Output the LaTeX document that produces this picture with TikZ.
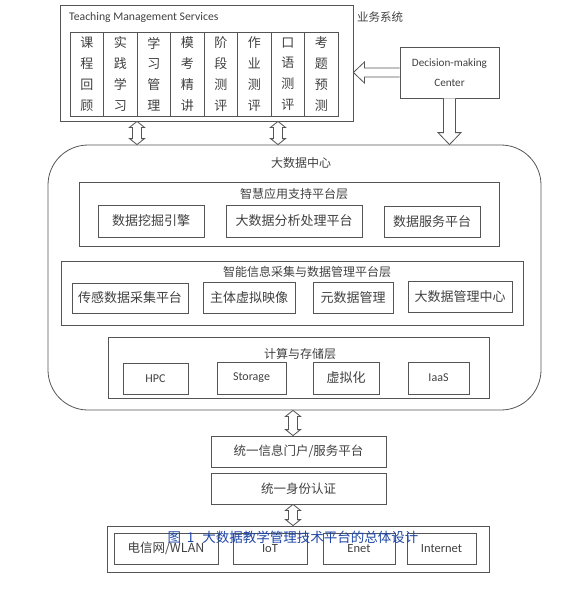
\documentclass[tikz,border=0pt]{standalone}
\usepackage{fontspec}
\setmainfont{Carlito}
\newfontfamily\cjk{Noto Sans CJK SC}
\usetikzlibrary{calc}
\definecolor{ln}{RGB}{85,85,85}
\definecolor{tx}{RGB}{64,64,64}
\definecolor{capc}{RGB}{30,70,165}
\newcommand\bx[7]{\node[box,#6,minimum width={(#4)-(#2)},minimum height={(#5)-(#3)}] (#1) at ({((#2)+(#4))/2},{((#3)+(#5))/2}) {#7};}
\newcommand\vdarr[3]{\draw[arr] let \p1=(#2), \p2=(#3) in
 (#1pt-4.5pt,\y1-6pt) -- (#1pt-7.5pt,\y1-6pt) -- (#1pt,\y1) -- (#1pt+7.5pt,\y1-6pt) -- (#1pt+4.5pt,\y1-6pt)
 -- (#1pt+4.5pt,\y2+6pt) -- (#1pt+7.5pt,\y2+6pt) -- (#1pt,\y2) -- (#1pt-7.5pt,\y2+6pt) -- (#1pt-4.5pt,\y2+6pt) -- cycle;}
\begin{document}
\begin{tikzpicture}[x=1pt,y=-1pt,
 box/.style={draw=ln,line width=0.8pt,inner sep=0pt,text=tx,align=center},
 arr/.style={draw=ln,line width=0.8pt,fill=white,line join=miter},
 lbl/.style={text=tx,inner sep=0pt},
 zh/.style={font=\cjk\fontsize{13}{15}\selectfont},
 zt/.style={font=\cjk\fontsize{12}{14}\selectfont},
 en/.style={font=\fontsize{12}{14}\selectfont},
 col/.style={box,minimum width=33.5,minimum height=84,font=\cjk\fontsize{13}{20.8}\selectfont}]
\useasboundingbox (0,0) rectangle (574,590);
% business system
\bx{tms}{60}{5}{353}{121}{}{}
\node[lbl,anchor=west,font=\fontsize{11.7}{13}\selectfont] (tmst) at (69,17) {Teaching Management Services};
\node[lbl,anchor=west,font=\cjk\fontsize{11.5}{13}\selectfont] (ywxt) at (357,17) {业务系统};
\node[col] (c1) at (86.75,74) {课\\程\\回\\顾};
\node[col] (c2) at (120.25,74) {实\\践\\学\\习};
\node[col] (c3) at (153.75,74) {学\\习\\管\\理};
\node[col] (c4) at (187.25,74) {模\\考\\精\\讲};
\node[col] (c5) at (220.75,74) {阶\\段\\测\\评};
\node[col] (c6) at (254.25,74) {作\\业\\测\\评};
\node[col] (c7) at (287.75,74) {口\\语\\测\\评};
\node[col] (c8) at (321.25,74) {考\\题\\预\\测};
\bx{dm}{400}{47}{499}{98}{font=\fontsize{11.2}{20}\selectfont}{Decision-making\\Center}
% big data center
\bx{bdc}{48}{145}{541}{410}{rounded corners=40pt}{}
\node[lbl,zt] (bdct) at (301,163) {大数据中心};
\bx{l1}{79}{182}{499}{246}{}{}
\node[lbl,zt] (l1t) at (294,194) {智慧应用支持平台层};
\bx{a1}{98}{205}{204}{237}{zh}{数据挖掘引擎}
\bx{a2}{226}{205}{362}{237}{zh}{大数据分析处理平台}
\bx{a3}{384}{206}{480}{237}{zh}{数据服务平台}
\bx{l2}{61}{261}{523}{325}{}{}
\node[lbl,zt] (l2t) at (307,272) {智能信息采集与数据管理平台层};
\bx{b1}{72}{283}{188}{313}{zh}{传感数据采集平台}
\bx{b2}{203}{282}{295}{313}{zh}{主体虚拟映像}
\bx{b3}{313}{282}{393}{313}{zh}{元数据管理}
\bx{b4}{408}{281}{512}{312}{zh}{大数据管理中心}
\bx{l3}{108}{337}{489}{398}{}{}
\node[lbl,zt] (l3t) at (300,354) {计算与存储层};
\bx{d1}{123}{363}{188}{394}{en}{HPC}
\bx{d2}{217}{362}{286}{394}{en}{Storage}
\bx{d3}{313}{362}{379}{394}{zh}{虚拟化}
\bx{d4}{408}{362}{469}{394}{en}{IaaS}
% portal and auth
\bx{portal}{211}{436}{386}{467}{font=\cjk\fontsize{12.5}{14}\selectfont}{统一信息门户/服务平台}
\bx{auth}{211}{473}{386}{504}{font=\cjk\fontsize{12.5}{14}\selectfont}{统一身份认证}
% network
\bx{net}{107}{526}{489}{572}{}{}
\bx{n1}{114}{533}{218}{564}{font=\cjk\fontsize{12.5}{14}\selectfont}{电信网/WLAN}
\bx{n2}{233}{533}{307}{564}{font=\fontsize{12.5}{14}\selectfont}{IoT}
\bx{n3}{323}{533}{395}{564}{font=\fontsize{12.5}{14}\selectfont}{Enet}
\bx{n4}{407}{533}{476}{564}{font=\fontsize{12.5}{14}\selectfont}{Internet}
% arrows
\vdarr{137}{tms.south}{bdc.north}
\vdarr{278}{tms.south}{bdc.north}
\vdarr{293}{bdc.south}{portal.north}
\vdarr{293}{auth.south}{net.north}
\draw[arr] let \p1=(dm.west), \p2=(tms.east) in
 (\x1,\y1+4.5pt) -- (\x2+11pt,\y1+4.5pt) -- (\x2+11pt,\y1+10.5pt) -- (\x2,\y1)
 -- (\x2+11pt,\y1-10.5pt) -- (\x2+11pt,\y1-4.5pt) -- (\x1,\y1-4.5pt);
\draw[arr] let \p1=(dm.south), \p2=(bdc.north) in
 (\x1-6pt,\y1) -- (\x1-6pt,\y2+12pt) -- (\x1-11.5pt,\y2+12pt) -- (\x1,\y2)
 -- (\x1+11.5pt,\y2+12pt) -- (\x1+6pt,\y2+12pt) -- (\x1+6pt,\y1);
% caption
\node[inner sep=0pt,text=capc,font=\cjk\fontsize{13.5}{15}\selectfont] (cap) at (293,537) {图\hspace{6pt}1\hspace{8pt}大数据教学管理技术平台的总体设计};
\end{tikzpicture}
\end{document}
